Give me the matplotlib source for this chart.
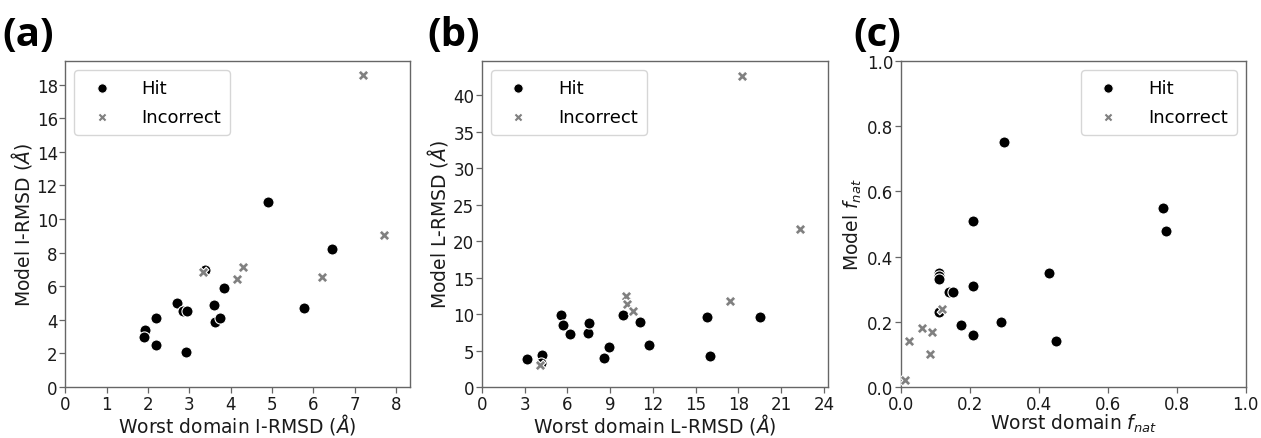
import matplotlib
matplotlib.use('Agg')
import matplotlib.pyplot as plt
import numpy as np

# (a) I-RMSD
a_hit_x = [4.91, 6.45, 5.78, 3.38, 3.85, 2.69, 2.85, 2.94, 3.60, 3.62, 3.74, 2.20, 1.92, 1.89, 2.19, 2.92]
a_hit_y = [11.0, 8.24, 4.69, 6.99, 5.90, 4.99, 4.55, 4.55, 4.87, 3.87, 4.09, 4.09, 3.40, 2.96, 2.48, 2.07]
a_inc_x = [7.20, 7.70, 6.22, 4.31, 4.15, 3.34]
a_inc_y = [18.55, 9.06, 6.55, 7.17, 6.44, 6.83]

# (b) L-RMSD
b_hit_x = [5.52, 5.68, 6.20, 7.42, 7.53, 9.90, 11.07, 11.70, 8.94, 8.54, 15.8, 16.0, 19.5, 3.16, 4.21, 4.16]
b_hit_y = [9.90, 8.53, 7.25, 7.47, 8.76, 9.90, 8.94, 5.82, 5.50, 3.99, 9.54, 4.22, 9.54, 3.85, 4.36, 3.30]
b_inc_x = [18.22, 22.3, 17.4, 10.1, 10.2, 10.6, 4.05]
b_inc_y = [42.7, 21.7, 11.8, 12.5, 11.4, 10.4, 3.07]

# (c) fnat
c_hit_x = [0.30, 0.21, 0.76, 0.77, 0.43, 0.21, 0.11, 0.11, 0.11, 0.14, 0.15, 0.11, 0.174, 0.21, 0.29, 0.45]
c_hit_y = [0.75, 0.51, 0.55, 0.48, 0.35, 0.31, 0.35, 0.34, 0.33, 0.29, 0.29, 0.23, 0.19, 0.16, 0.20, 0.14]
c_inc_x = [0.12, 0.06, 0.09, 0.024, 0.083, 0.012]
c_inc_y = [0.24, 0.18, 0.17, 0.14, 0.10, 0.02]

panels = [
    ('(a)', a_hit_x, a_hit_y, a_inc_x, a_inc_y,
     'Worst domain I-RMSD ($Å$)', 'Model I-RMSD ($Å$)',
     (0, 8.34), (0, 19.4), np.arange(0, 9, 1), np.arange(0, 19, 2), 'upper left'),
    ('(b)', b_hit_x, b_hit_y, b_inc_x, b_inc_y,
     'Worst domain L-RMSD ($Å$)', 'Model L-RMSD ($Å$)',
     (0, 24.3), (0, 44.7), np.arange(0, 25, 3), np.arange(0, 41, 5), 'upper left'),
    ('(c)', c_hit_x, c_hit_y, c_inc_x, c_inc_y,
     'Worst domain $f_{nat}$', 'Model $f_{nat}$',
     (0, 1), (0, 1), np.arange(0, 1.01, 0.2), np.arange(0, 1.01, 0.2), 'upper right'),
]

lefts = [0.0519, 0.3822, 0.7145]
widths = [0.2732, 0.2746, 0.2734]
label_x = [0.002, 0.339, 0.677]

fig = plt.figure(figsize=(12.61, 4.39), dpi=100)

for i, (tag, hx, hy, ix, iy, xl, yl, xlim, ylim, xt, yt, loc) in enumerate(panels):
    ax = fig.add_axes([lefts[i], 0.1162, widths[i], 0.7426])
    ax.scatter(hx, hy, s=64, marker='o', color='black', edgecolor='white',
               linewidth=0.8, label='Hit', zorder=3)
    ax.scatter(ix, iy, s=60, marker='X', color='#808080', edgecolor='white',
               linewidth=0.8, label='Incorrect', zorder=3)
    ax.set_xlim(*xlim)
    ax.set_ylim(*ylim)
    ax.set_xticks(xt)
    ax.set_yticks(yt)
    if tag == '(c)':
        ax.set_xticklabels([f'{v:.1f}' for v in xt])
        ax.set_yticklabels([f'{v:.1f}' for v in yt])
    ax.set_xlabel(xl, fontsize=13.5, labelpad=-1, color='#1a1a1a')
    ax.set_ylabel(yl, fontsize=13.5, labelpad=2, color='#1a1a1a')
    ax.tick_params(axis='both', labelsize=12, colors='#1a1a1a', length=4,
                   width=0.9, pad=1.5)
    ax.tick_params(axis='both', color='#666666')
    for spine in ax.spines.values():
        spine.set_edgecolor('#666666')
        spine.set_linewidth(1.0)
    ax.legend(loc=loc, fontsize=13, handletextpad=1.2, borderpad=0.5,
              labelspacing=0.6, markerscale=0.85, framealpha=0.8)
    fig.text(label_x[i], 0.875, tag, fontsize=29, fontweight='bold',
             family=['Open Sans', 'DejaVu Sans'], ha='left', va='bottom')

fig.savefig('out.png', dpi=100)
